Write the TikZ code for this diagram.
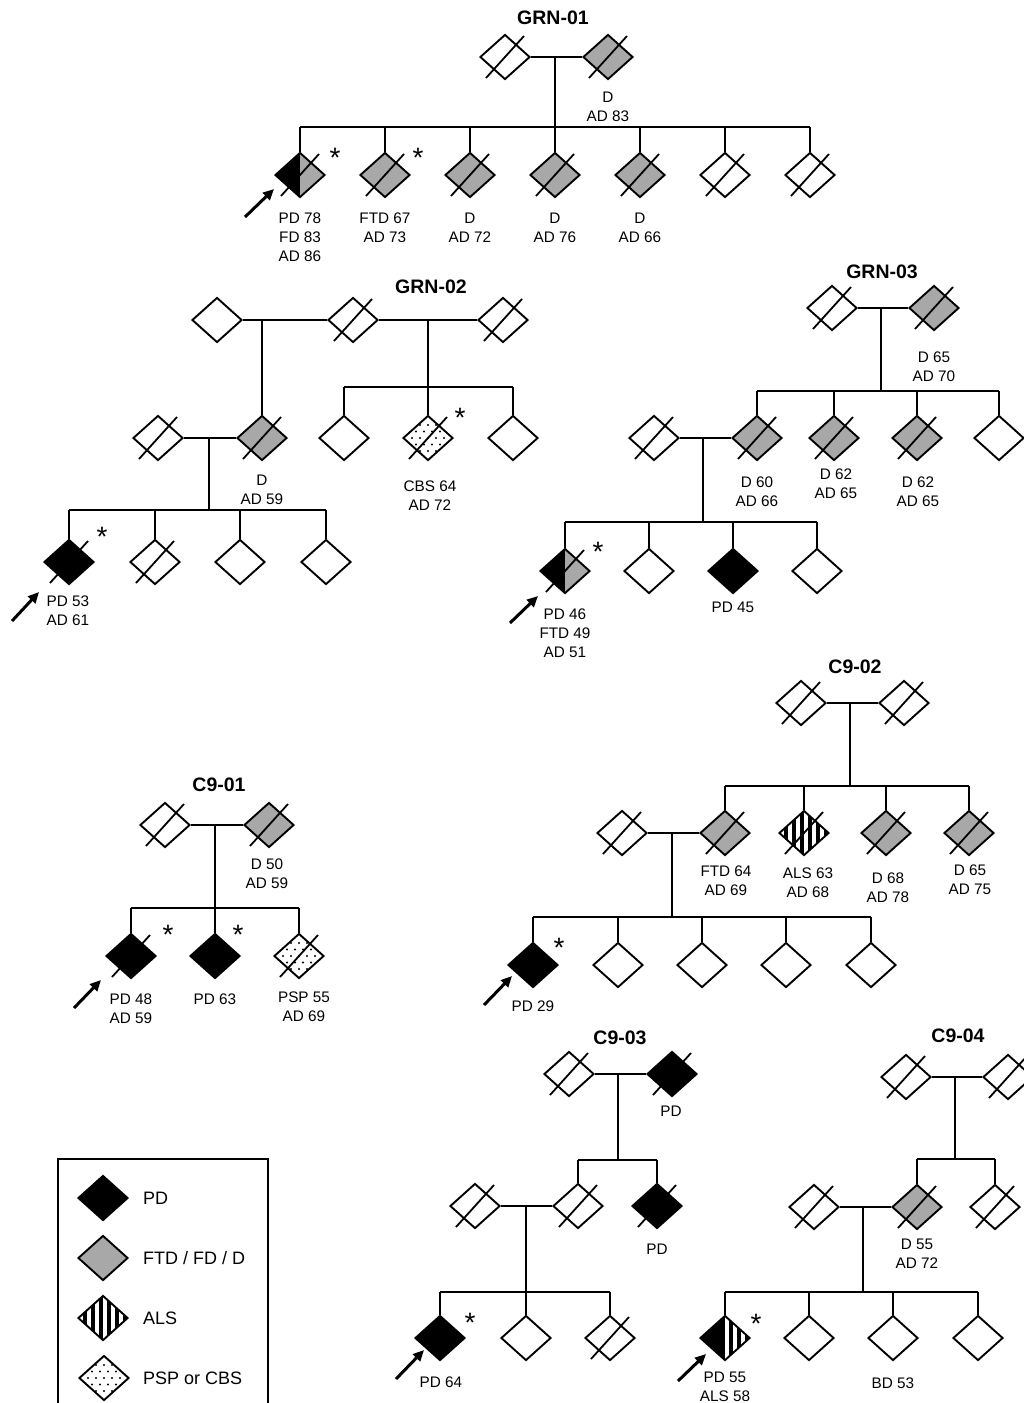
\documentclass[tikz,border=0pt]{standalone}
\usepackage{fontspec}
\setmainfont{Liberation Sans}
\usetikzlibrary{shapes.geometric,calc,arrows.meta}
\definecolor{dgray}{RGB}{168,168,168}
\newcommand{\dsl}[1]{\draw[slashline] ($(#1.center)+(-19,21)$) -- ($(#1.center)+(19,-21)$);}
\tikzset{
  ind/.style={diamond, draw=black, line width=1.9pt, minimum width=50pt, minimum height=45pt, inner sep=0pt, fill=white},
  pd/.style={ind, fill=black},
  dem/.style={ind, fill=dgray},
  pdhalf/.style={ind, fill=dgray, path picture={\fill[black] (path picture bounding box.north west) rectangle (path picture bounding box.south);}},
  als/.style={ind, path picture={
    \foreach \k in {-4,...,3}{
      \fill[black] ($(path picture bounding box.center)+(\k*8+3.5,-30)$) rectangle ($(path picture bounding box.center)+(\k*8+8,30)$);}}},
  pdals/.style={ind, path picture={
    \foreach \k in {0,...,3}{
      \fill[black] ($(path picture bounding box.center)+(\k*8+3.5,-30)$) rectangle ($(path picture bounding box.center)+(\k*8+8,30)$);}
    \fill[black] (path picture bounding box.north west) rectangle (path picture bounding box.south);}},
  psp/.style={ind, path picture={
    \foreach \i in {-4,...,4}{\foreach \j in {-4,...,4}{
      \fill[black] ($(path picture bounding box.center)+({\i*8+mod(\j+8,2)*4},{\j*6.5})$) circle (1.1);}}}},
  slashline/.style={line width=1.8pt},
  ln/.style={line width=1.8pt},
  lbl/.style={font=\fontsize{15.3}{19}\selectfont, align=center, anchor=north, inner sep=0pt},
  ttl/.style={font=\bfseries\fontsize{19.5}{22}\selectfont, inner sep=0pt},
  ast/.style={font=\fontsize{28}{28}\selectfont, anchor=north, inner sep=0pt},
  parrow/.style={line width=3pt, -{Triangle[length=11pt,width=10pt]}},
  legtxt/.style={font=\fontsize{18}{20}\selectfont, anchor=west, inner sep=0pt}
}
\begin{document}
\begin{tikzpicture}[x=1pt,y=-1pt]
\useasboundingbox (0,0) rectangle (1024,1403);
\fill[white] (0,0) rectangle (1024,1403);

% ================= GRN-01 =================
\node[ttl] (g1t) at (553,18) {GRN-01};
\node[ind] (g1p1) at (505,57) {}; \dsl{g1p1}
\node[dem] (g1p2) at (608,57) {}; \dsl{g1p2}
\coordinate (g1m) at (555,57); \coordinate (g1s) at (555,127);
\node[pdhalf] (g1c1) at (300,175) {}; \dsl{g1c1}
\node[dem] (g1c2) at (385,175) {}; \dsl{g1c2}
\node[dem] (g1c3) at (470,175) {}; \dsl{g1c3}
\node[dem] (g1c4) at (555,175) {}; \dsl{g1c4}
\node[dem] (g1c5) at (640,175) {}; \dsl{g1c5}
\node[ind] (g1c6) at (725,175) {}; \dsl{g1c6}
\node[ind] (g1c7) at (810,175) {}; \dsl{g1c7}
\draw[ln] (g1p1.east) -- (g1p2.west);
\draw[ln] (g1m) -- (g1s);
\draw[ln] (g1c1.north |- g1s) -- (g1c7.north |- g1s);
\foreach \c in {g1c1,g1c2,g1c3,g1c4,g1c5,g1c6,g1c7} \draw[ln] (\c.north) -- (\c.north |- g1s);
\node[lbl] (g1l0) at (608,91.6) {D\\AD 83};
\node[lbl] (g1l1) at (300,212.6) {PD 78\\FD 83\\AD 86};
\node[lbl] (g1l2) at (385,212.6) {FTD 67\\AD 73};
\node[lbl] (g1l3) at (470,212.6) {D\\AD 72};
\node[lbl] (g1l4) at (555,212.6) {D\\AD 76};
\node[lbl] (g1l5) at (640,212.6) {D\\AD 66};
\node[ast] (g1a1) at (335,148) {*};
\node[ast] (g1a2) at (418,148) {*};
\coordinate (g1rt) at (245,217); \coordinate (g1rh) at (274,189);
\draw[parrow] (g1rt) -- (g1rh);

% ================= GRN-02 =================
\node[ttl] (g2t) at (431,287) {GRN-02};
\node[ind] (g2A) at (217,320) {};
\node[ind] (g2B) at (353,320) {}; \dsl{g2B}
\node[ind] (g2C) at (503,320) {}; \dsl{g2C}
\node[dem] (g2D) at (262,438) {}; \dsl{g2D}
\node[ind] (g2E) at (158,438) {}; \dsl{g2E}
\node[ind] (g2F) at (344,438) {};
\node[psp] (g2G) at (428,438) {}; \dsl{g2G}
\node[ind] (g2H) at (513,438) {};
\node[pd] (g2I) at (69,562) {}; \dsl{g2I}
\node[ind] (g2J) at (155,562) {}; \dsl{g2J}
\node[ind] (g2K) at (240,562) {};
\node[ind] (g2L) at (326,562) {};
\coordinate (g2mAB) at (262,320);
\coordinate (g2mBC) at (428,320); \coordinate (g2sBC) at (428,387);
\coordinate (g2mDE) at (209,438); \coordinate (g2sDE) at (209,510);
\draw[ln] (g2A.east) -- (g2B.west);
\draw[ln] (g2B.east) -- (g2C.west);
\draw[ln] (g2mAB) -- (g2D.north);
\draw[ln] (g2mBC) -- (g2sBC);
\draw[ln] (g2F.north |- g2sBC) -- (g2H.north |- g2sBC);
\foreach \c in {g2F,g2G,g2H} \draw[ln] (\c.north) -- (\c.north |- g2sBC);
\draw[ln] (g2E.east) -- (g2D.west);
\draw[ln] (g2mDE) -- (g2sDE);
\draw[ln] (g2I.north |- g2sDE) -- (g2L.north |- g2sDE);
\foreach \c in {g2I,g2J,g2K,g2L} \draw[ln] (\c.north) -- (\c.north |- g2sDE);
\node[lbl] (g2lD) at (262,474.6) {D\\AD 59};
\node[lbl] (g2lG) at (430,480.6) {CBS 64\\AD 72};
\node[lbl] (g2lI) at (68,596) {PD 53\\AD 61};
\node[ast] (g2aG) at (460,408) {*};
\node[ast] (g2aI) at (102,527) {*};
\coordinate (g2rt) at (12,621); \coordinate (g2rh) at (39,592);
\draw[parrow] (g2rt) -- (g2rh);

% ================= GRN-03 =================
\node[ttl] (g3t) at (882,272) {GRN-03};
\node[ind] (g3P) at (832,308) {}; \dsl{g3P}
\node[dem] (g3Q) at (934,308) {}; \dsl{g3Q}
\node[dem] (g3R) at (757,438) {}; \dsl{g3R}
\node[dem] (g3S) at (834,438) {}; \dsl{g3S}
\node[dem] (g3T) at (917,438) {}; \dsl{g3T}
\node[ind] (g3U) at (999,438) {};
\node[ind] (g3V) at (654,438) {}; \dsl{g3V}
\node[pdhalf] (g3W) at (565,571) {}; \dsl{g3W}
\node[ind] (g3X) at (649,571) {};
\node[pd] (g3Y) at (733,571) {};
\node[ind] (g3Z) at (817,571) {};
\coordinate (g3m) at (881,308); \coordinate (g3s) at (881,391);
\coordinate (g3m2) at (703,438); \coordinate (g3s2) at (703,522);
\draw[ln] (g3P.east) -- (g3Q.west);
\draw[ln] (g3m) -- (g3s);
\draw[ln] (g3R.north |- g3s) -- (g3U.north |- g3s);
\foreach \c in {g3R,g3S,g3T,g3U} \draw[ln] (\c.north) -- (\c.north |- g3s);
\draw[ln] (g3V.east) -- (g3R.west);
\draw[ln] (g3m2) -- (g3s2);
\draw[ln] (g3W.north |- g3s2) -- (g3Z.north |- g3s2);
\foreach \c in {g3W,g3X,g3Y,g3Z} \draw[ln] (\c.north) -- (\c.north |- g3s2);
\node[lbl] (g3lQ) at (934,351.6) {D 65\\AD 70};
\node[lbl] (g3lR) at (757,476.6) {D 60\\AD 66};
\node[lbl] (g3lS) at (836,468.6) {D 62\\AD 65};
\node[lbl] (g3lT) at (918,476.6) {D 62\\AD 65};
\node[lbl] (g3lW) at (565,608.6) {PD 46\\FTD 49\\AD 51};
\node[lbl] (g3lY) at (733,601.6) {PD 45};
\node[ast] (g3aW) at (598,542) {*};
\coordinate (g3rt) at (510,623); \coordinate (g3rh) at (538,596);
\draw[parrow] (g3rt) -- (g3rh);

% ================= C9-01 =================
\node[ttl] (c1t) at (219,785) {C9-01};
\node[ind] (c1P) at (165,825) {}; \dsl{c1P}
\node[dem] (c1Q) at (269,825) {}; \dsl{c1Q}
\node[pd] (c1A) at (131,956) {}; \dsl{c1A}
\node[pd] (c1B) at (215,956) {};
\node[psp] (c1C) at (299,956) {}; \dsl{c1C}
\coordinate (c1m) at (215,825); \coordinate (c1s) at (215,908);
\draw[ln] (c1P.east) -- (c1Q.west);
\draw[ln] (c1m) -- (c1s);
\draw[ln] (c1A.north |- c1s) -- (c1C.north |- c1s);
\foreach \c in {c1A,c1B,c1C} \draw[ln] (\c.north) -- (\c.north |- c1s);
\node[lbl] (c1lQ) at (267,858.6) {D 50\\AD 59};
\node[lbl] (c1lA) at (131,993.6) {PD 48\\AD 59};
\node[lbl] (c1lB) at (215,993.6) {PD 63};
\node[lbl] (c1lC) at (304,991.6) {PSP 55\\AD 69};
\node[ast] (c1aA) at (168,925) {*};
\node[ast] (c1aB) at (238,925) {*};
\coordinate (c1rt) at (74,1008); \coordinate (c1rh) at (101,980);
\draw[parrow] (c1rt) -- (c1rh);

% ================= C9-02 =================
\node[ttl] (c2t) at (855,667) {C9-02};
\node[ind] (c2P) at (801,703) {}; \dsl{c2P}
\node[ind] (c2Q) at (904,703) {}; \dsl{c2Q}
\node[dem] (c2R) at (725,833) {}; \dsl{c2R}
\node[als] (c2S) at (804,833) {}; \dsl{c2S}
\node[dem] (c2T) at (886,833) {}; \dsl{c2T}
\node[dem] (c2U) at (969,833) {}; \dsl{c2U}
\node[ind] (c2V) at (622,833) {}; \dsl{c2V}
\node[pd] (c2W) at (533,965) {};
\node[ind] (c2X) at (618,965) {};
\node[ind] (c2Y) at (702,965) {};
\node[ind] (c2Z) at (786,965) {};
\node[ind] (c2ZZ) at (871,965) {};
\coordinate (c2m) at (850,703); \coordinate (c2s) at (850,786);
\coordinate (c2m2) at (672,833); \coordinate (c2s2) at (672,917);
\draw[ln] (c2P.east) -- (c2Q.west);
\draw[ln] (c2m) -- (c2s);
\draw[ln] (c2R.north |- c2s) -- (c2U.north |- c2s);
\foreach \c in {c2R,c2S,c2T,c2U} \draw[ln] (\c.north) -- (\c.north |- c2s);
\draw[ln] (c2V.east) -- (c2R.west);
\draw[ln] (c2m2) -- (c2s2);
\draw[ln] (c2W.north |- c2s2) -- (c2ZZ.north |- c2s2);
\foreach \c in {c2W,c2X,c2Y,c2Z,c2ZZ} \draw[ln] (\c.north) -- (\c.north |- c2s2);
\node[lbl] (c2lR) at (726,865.6) {FTD 64\\AD 69};
\node[lbl] (c2lS) at (808,867.6) {ALS 63\\AD 68};
\node[lbl] (c2lT) at (888,872.6) {D 68\\AD 78};
\node[lbl] (c2lU) at (970,864.6) {D 65\\AD 75};
\node[lbl] (c2lW) at (533,1000.6) {PD 29};
\node[ast] (c2aW) at (559,938) {*};
\coordinate (c2rt) at (484,1005); \coordinate (c2rh) at (512,976);
\draw[parrow] (c2rt) -- (c2rh);

% ================= C9-03 =================
\node[ttl] (c3t) at (620,1038) {C9-03};
\node[ind] (c3P) at (569,1074) {}; \dsl{c3P}
\node[pd] (c3Q) at (672,1074) {}; \dsl{c3Q}
\node[ind] (c3M1) at (578,1206) {}; \dsl{c3M1}
\node[pd] (c3M2) at (657,1206) {}; \dsl{c3M2}
\node[ind] (c3Sp) at (475,1206) {}; \dsl{c3Sp}
\node[pd] (c3B1) at (440,1338) {};
\node[ind] (c3B2) at (526,1338) {};
\node[ind] (c3B3) at (610,1338) {}; \dsl{c3B3}
\coordinate (c3m) at (618,1074); \coordinate (c3s) at (618,1160);
\coordinate (c3m2) at (526,1206); \coordinate (c3s2) at (526,1292);
\draw[ln] (c3P.east) -- (c3Q.west);
\draw[ln] (c3m) -- (c3s);
\draw[ln] (c3M1.north |- c3s) -- (c3M2.north |- c3s);
\foreach \c in {c3M1,c3M2} \draw[ln] (\c.north) -- (\c.north |- c3s);
\draw[ln] (c3Sp.east) -- (c3M1.west);
\draw[ln] (c3m2) -- (c3s2);
\draw[ln] (c3B1.north |- c3s2) -- (c3B3.north |- c3s2);
\foreach \c in {c3B1,c3B2,c3B3} \draw[ln] (\c.north) -- (\c.north |- c3s2);
\node[lbl] (c3lQ) at (671,1105.6) {PD};
\node[lbl] (c3lM2) at (657,1243.6) {PD};
\node[lbl] (c3lB1) at (441,1376.6) {PD 64};
\node[ast] (c3aB1) at (470,1313) {*};
\coordinate (c3rt) at (396,1379); \coordinate (c3rh) at (424,1350);
\draw[parrow] (c3rt) -- (c3rh);

% ================= C9-04 =================
\node[ttl] (c4t) at (958,1036) {C9-04};
\node[ind] (c4P) at (906,1077) {}; \dsl{c4P}
\node[ind] (c4Q) at (1008,1077) {}; \dsl{c4Q}
\node[dem] (c4M1) at (917,1207) {}; \dsl{c4M1}
\node[ind] (c4M2) at (995,1207) {}; \dsl{c4M2}
\node[ind] (c4Sp) at (814,1207) {}; \dsl{c4Sp}
\node[pdals] (c4B1) at (725,1338) {};
\node[ind] (c4B2) at (809,1338) {};
\node[ind] (c4B3) at (893,1338) {};
\node[ind] (c4B4) at (978,1338) {};
\coordinate (c4m) at (955,1077); \coordinate (c4s) at (955,1159);
\coordinate (c4m2) at (863,1207); \coordinate (c4s2) at (863,1292);
\draw[ln] (c4P.east) -- (c4Q.west);
\draw[ln] (c4m) -- (c4s);
\draw[ln] (c4M1.north |- c4s) -- (c4M2.north |- c4s);
\foreach \c in {c4M1,c4M2} \draw[ln] (\c.north) -- (\c.north |- c4s);
\draw[ln] (c4Sp.east) -- (c4M1.west);
\draw[ln] (c4m2) -- (c4s2);
\draw[ln] (c4B1.north |- c4s2) -- (c4B4.north |- c4s2);
\foreach \c in {c4B1,c4B2,c4B3,c4B4} \draw[ln] (\c.north) -- (\c.north |- c4s2);
\node[lbl] (c4lM1) at (917,1238.6) {D 55\\AD 72};
\node[lbl] (c4lB1) at (725,1371.6) {PD 55\\ALS 58};
\node[lbl] (c4lB3) at (893,1377.6) {BD 53};
\node[ast] (c4aB1) at (756,1314) {*};
\coordinate (c4rt) at (678,1381); \coordinate (c4rh) at (706,1354);
\draw[parrow] (c4rt) -- (c4rh);

% ================= Legend =================
\draw[line width=1.5pt] (58,1420) -- (58,1159) -- (268,1159) -- (268,1420);
\node[pd] (lg1) at (103,1198) {};
\node[dem] (lg2) at (103,1258) {};
\node[als] (lg3) at (103,1318) {};
\node[psp] (lg4) at (104,1378) {};
\node[legtxt] (lt1) at (143,1198) {PD};
\node[legtxt] (lt2) at (143,1258) {FTD / FD / D};
\node[legtxt] (lt3) at (143,1318) {ALS};
\node[legtxt] (lt4) at (143,1378) {PSP or CBS};
\end{tikzpicture}
\end{document}
